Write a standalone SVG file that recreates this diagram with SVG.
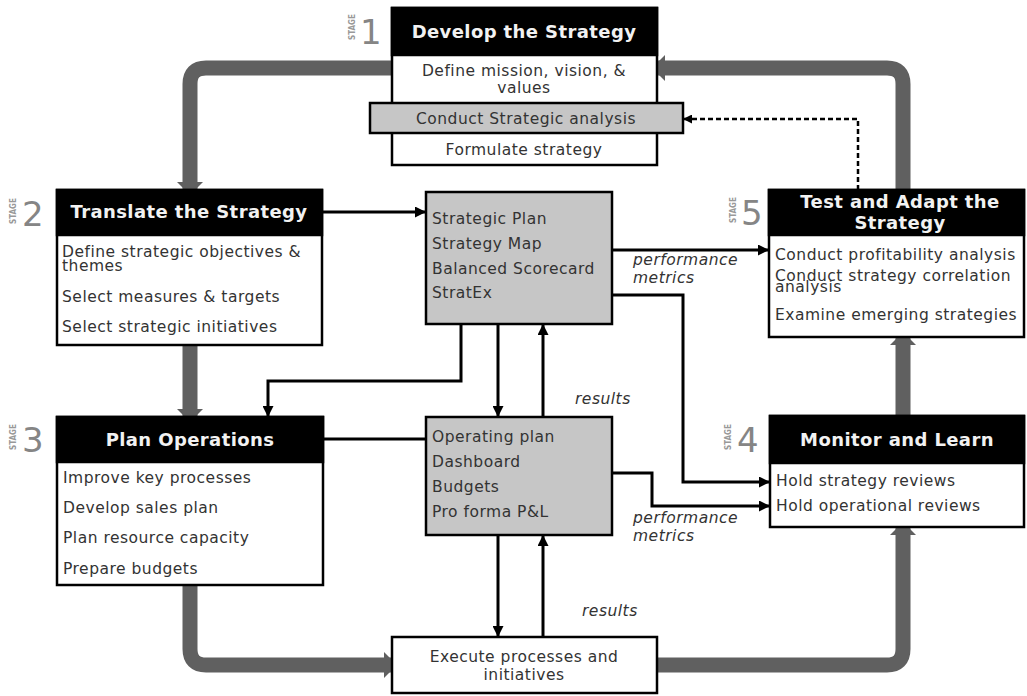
<svg xmlns="http://www.w3.org/2000/svg" width="1027" height="696" viewBox="0 0 1027 696">
  <style>
    .loop { fill: none; stroke: #606060; stroke-width: 15; }
    .link { fill: none; stroke: #000; stroke-width: 3; }
    .dash { fill: none; stroke: #000; stroke-width: 2.5; stroke-dasharray: 5 3; }
    .box { fill: #fff; stroke: #000; stroke-width: 2.5; }
    .hdr { fill: #000; stroke: #000; stroke-width: 2.5; }
    .doc { fill: #c6c6c6; stroke: #000; stroke-width: 2.5; }
    .title { font-family: "DejaVu Sans", Verdana, sans-serif; font-weight: bold; font-size: 18px; letter-spacing: 0.4px; fill: #f2f2f2; text-anchor: middle; }
    .item { font-family: "DejaVu Sans", Verdana, sans-serif; font-size: 15.5px; letter-spacing: 0.5px; fill: #333; }
    .mid { text-anchor: middle; }
    .note { font-family: "DejaVu Sans", Verdana, sans-serif; font-style: italic; font-size: 15.5px; letter-spacing: 0.5px; fill: #333; }
    .num { font-family: "DejaVu Sans", Verdana, sans-serif; font-size: 34px; fill: #858585; }
    .stg { font-family: "DejaVu Sans Condensed", "DejaVu Sans", sans-serif; font-weight: bold; font-size: 8px; fill: #999; text-anchor: middle; }
  </style>
  <defs>
    <marker id="arr" markerUnits="userSpaceOnUse" viewBox="0 0 10 10" refX="10" refY="5" markerWidth="11" markerHeight="11" orient="auto">
      <path d="M0,0 L10,5 L0,10 z" fill="#000"/>
    </marker>
    <marker id="arrSmall" markerUnits="userSpaceOnUse" viewBox="0 0 10 10" refX="10" refY="5" markerWidth="9" markerHeight="9" orient="auto">
      <path d="M0,0 L10,5 L0,10 z" fill="#000"/>
    </marker>
    <marker id="wide" markerUnits="userSpaceOnUse" viewBox="0 0 8 26" refX="8" refY="13" markerWidth="8" markerHeight="26" orient="auto">
      <path d="M0,0 L8,8 L8,18 L0,26 z" fill="#606060"/>
    </marker>
  </defs>

  <!-- main cycle band between the five stages -->
  <g id="cycle">
    <path class="loop" d="M392,68 H206 Q190,68 190,84 V190" marker-end="url(#wide)"/>
    <path class="loop" d="M190,345 V417" marker-end="url(#wide)"/>
    <path class="loop" d="M190,585 V649 Q190,665 206,665 H392" marker-end="url(#wide)"/>
    <path class="loop" d="M657,665 H887 Q903,665 903,649 V527" marker-end="url(#wide)"/>
    <path class="loop" d="M903,416 V337" marker-end="url(#wide)"/>
    <path class="loop" d="M903,190 V84 Q903,68 887,68 H657" marker-end="url(#wide)"/>
  </g>

  <!-- information flows -->
  <g id="connectors">
    <path class="link" d="M322,212 H426" marker-end="url(#arr)"/>
    <path class="link" d="M612,250 H769" marker-end="url(#arr)"/>
    <path class="link" d="M612,295 H683 V482 H770" marker-end="url(#arr)"/>
    <path class="link" d="M612,473 H652 V506 H770" marker-end="url(#arr)"/>
    <path class="link" d="M461,324 V381 H268 V417" marker-end="url(#arr)"/>
    <path class="link" d="M498,324 V417" marker-end="url(#arr)"/>
    <path class="link" d="M543,417 V324" marker-end="url(#arr)"/>
    <path class="link" d="M323,439 H426"/>
    <path class="link" d="M498,535 V637" marker-end="url(#arr)"/>
    <path class="link" d="M543,637 V535" marker-end="url(#arr)"/>
    <path class="dash" d="M858,190 V119 H683" marker-end="url(#arrSmall)"/>
    <text class="note" x="633" y="265">performance</text>
    <text class="note" x="633" y="283">metrics</text>
    <text class="note" x="633" y="523">performance</text>
    <text class="note" x="633" y="541">metrics</text>
    <text class="note" x="575" y="404">results</text>
    <text class="note" x="582" y="616">results</text>
  </g>

  <!-- stage 1 -->
  <g id="stage1">
    <rect class="box" x="392" y="8" width="265" height="157"/>
    <rect class="hdr" x="392" y="8" width="265" height="47"/>
    <text class="title" x="524" y="38">Develop the Strategy</text>
    <text class="item mid" x="524" y="76">Define mission, vision, &amp;</text>
    <text class="item mid" x="524" y="93">values</text>
    <rect class="doc" x="370" y="103" width="313" height="30"/>
    <text class="item mid" x="526" y="124">Conduct Strategic analysis</text>
    <text class="item mid" x="524" y="155">Formulate strategy</text>
    <text class="stg" transform="translate(355,27) rotate(-90)">STAGE</text>
    <text class="num" x="360" y="44">1</text>
  </g>

  <!-- stage 2 -->
  <g id="stage2">
    <rect class="box" x="57" y="190" width="265" height="155"/>
    <rect class="hdr" x="57" y="190" width="265" height="45"/>
    <text class="title" x="189" y="218">Translate the Strategy</text>
    <text class="item" x="62" y="257">Define strategic objectives &amp;</text>
    <text class="item" x="62" y="271">themes</text>
    <text class="item" x="62" y="302">Select measures &amp; targets</text>
    <text class="item" x="62" y="332">Select strategic initiatives</text>
    <text class="stg" transform="translate(16,211) rotate(-90)">STAGE</text>
    <text class="num" x="22" y="226">2</text>
  </g>

  <!-- stage 3 -->
  <g id="stage3">
    <rect class="box" x="57" y="417" width="266" height="168"/>
    <rect class="hdr" x="57" y="417" width="266" height="45"/>
    <text class="title" x="190" y="446">Plan Operations</text>
    <text class="item" x="63" y="483">Improve key processes</text>
    <text class="item" x="63" y="513">Develop sales plan</text>
    <text class="item" x="63" y="543">Plan resource capacity</text>
    <text class="item" x="63" y="574">Prepare budgets</text>
    <text class="stg" transform="translate(16,437) rotate(-90)">STAGE</text>
    <text class="num" x="22" y="452">3</text>
  </g>

  <!-- stage 4 -->
  <g id="stage4">
    <rect class="box" x="770" y="416" width="254" height="111"/>
    <rect class="hdr" x="770" y="416" width="254" height="47"/>
    <text class="title" x="897" y="446">Monitor and Learn</text>
    <text class="item" x="776" y="486">Hold strategy reviews</text>
    <text class="item" x="776" y="511">Hold operational reviews</text>
    <text class="stg" transform="translate(731,437) rotate(-90)">STAGE</text>
    <text class="num" x="737" y="452">4</text>
  </g>

  <!-- stage 5 -->
  <g id="stage5">
    <rect class="box" x="769" y="190" width="255" height="147"/>
    <rect class="hdr" x="769" y="190" width="255" height="45"/>
    <text class="title" x="900" y="208">Test and Adapt the</text>
    <text class="title" x="900" y="229">Strategy</text>
    <text class="item" x="775" y="260">Conduct profitability analysis</text>
    <text class="item" x="775" y="281">Conduct strategy correlation</text>
    <text class="item" x="775" y="292">analysis</text>
    <text class="item" x="775" y="320">Examine emerging strategies</text>
    <text class="stg" transform="translate(736,210) rotate(-90)">STAGE</text>
    <text class="num" x="741" y="225">5</text>
  </g>

  <!-- strategy documents -->
  <g id="strategy-docs">
    <rect class="doc" x="426" y="192" width="186" height="132"/>
    <text class="item" x="432" y="224">Strategic Plan</text>
    <text class="item" x="432" y="249">Strategy Map</text>
    <text class="item" x="432" y="274">Balanced Scorecard</text>
    <text class="item" x="432" y="298">StratEx</text>
  </g>

  <!-- operating documents -->
  <g id="operating-docs">
    <rect class="doc" x="426" y="417" width="186" height="118"/>
    <text class="item" x="432" y="442">Operating plan</text>
    <text class="item" x="432" y="467">Dashboard</text>
    <text class="item" x="432" y="492">Budgets</text>
    <text class="item" x="432" y="517">Pro forma P&amp;L</text>
  </g>

  <!-- execution -->
  <g id="execute">
    <rect class="box" x="392" y="637" width="265" height="56"/>
    <text class="item mid" x="524" y="662">Execute processes and</text>
    <text class="item mid" x="524" y="680">initiatives</text>
  </g>
</svg>
